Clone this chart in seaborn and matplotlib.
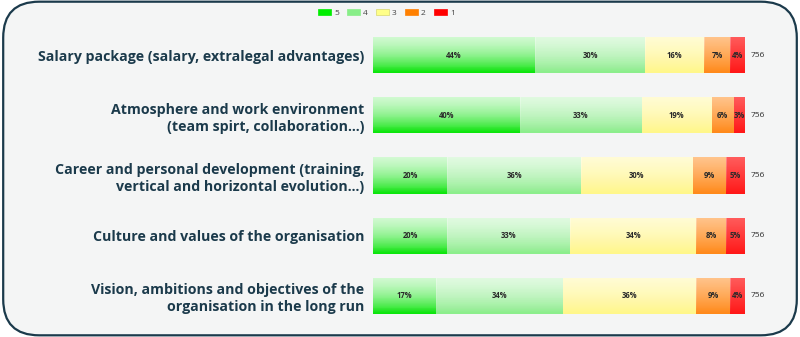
import numpy as np
import pandas as pd
import matplotlib
matplotlib.use("Agg")
import matplotlib.pyplot as plt
from matplotlib.patches import FancyBboxPatch, Patch
import seaborn as sns

categories = [
    "Salary package (salary, extralegal advantages)",
    "Atmosphere and work environment\n(team spirt, collaboration...)",
    "Career and personal development (training,\nvertical and horizontal evolution...)",
    "Culture and values of the organisation",
    "Vision, ambitions and objectives of the\norganisation in the long run",
]
levels = ["5", "4", "3", "2", "1"]
score5 = [44, 40, 20, 20, 17]
score4 = [30, 33, 36, 33, 34]
score3 = [16, 19, 30, 34, 36]
score2 = [7, 6, 9, 8, 9]
score1 = [4, 3, 5, 5, 4]
counts = [756, 756, 756, 756, 756]

colors = ["#0be60b", "#8cee8c", "#fff78a", "#ff8a1a", "#ff1818"]
legend_colors = ["#00ee00", "#88ee88", "#ffff88", "#ff8000", "#ff0000"]
text_col = "#1b3a4b"

sns.set_theme(style="white")
plt.rcParams['font.family'] = ['Open Sans', 'DejaVu Sans']

vals = np.array([score5, score4, score3, score2, score1], dtype=float)  # levels x cats
totals = vals.sum(axis=0)
shares = vals / totals
cum = np.cumsum(shares, axis=0)

fig = plt.figure(figsize=(8, 3.37), dpi=100)
fig.patch.set_facecolor("white")
frame = FancyBboxPatch((0.004, 0.005), 0.992, 0.99, boxstyle="round,pad=0,rounding_size=0.045",
                       transform=fig.transFigure, facecolor="#f4f5f5", edgecolor=text_col,
                       linewidth=1.6, mutation_aspect=800/337, zorder=-5)
fig.patches.append(frame)

ax = fig.add_axes([0.466, 0.0326, 0.465, 0.8934])
ax.set_facecolor("none")
ax.set_zorder(2)

# draw cumulative layers from right-most (1) to left-most (5)
for i in range(len(levels) - 1, -1, -1):
    df = pd.DataFrame({"cat": categories, "value": cum[i]})
    sns.barplot(data=df, x="value", y="cat", orient="h", color=colors[i],
                saturation=1, width=0.6, ax=ax, edgecolor="none", linewidth=0)

# gradient highlight on each bar
grad = np.linspace(0.3, 0.0, 64).reshape(-1, 1)
rgba = np.zeros((64, 1, 4))
rgba[..., :3] = 1.0
rgba[..., 3] = grad
for p in list(ax.patches):
    x0, y0 = p.get_x(), p.get_y()
    w, h = p.get_width(), p.get_height()
    im = ax.imshow(rgba, extent=(x0, x0 + w, y0 + h, y0), aspect="auto",
                   interpolation="bilinear", zorder=p.get_zorder() + 0.01)
    im.set_clip_path(p)

ax.set_xlim(0, 1)
ax.set_ylim(len(categories) - 0.5, -0.5)

# segment labels
for j in range(len(categories)):
    left = 0.0
    for i in range(len(levels)):
        w = shares[i, j]
        ax.text(left + w / 2, j, f"{int(vals[i, j])}%", ha="center", va="center",
                fontsize=5.5, fontweight="bold", color="#2a2a2a", zorder=10)
        left += w
    ax.text(1.015, j, str(counts[j]), ha="left", va="center", fontsize=6,
            color="#2a2a2a", zorder=10)

ax.set_xlabel("")
ax.set_ylabel("")
ax.set_xticks([])
ax.tick_params(axis="y", length=0, pad=6)
ax.set_yticks(range(len(categories)))
ax.set_yticklabels(categories, fontsize=10.2, fontweight="bold", color=text_col,
                   linespacing=1.28, ha="right")
for s in ax.spines.values():
    s.set_visible(False)

handles = [Patch(facecolor=c, edgecolor="#d8d870" if l == "3" else c, linewidth=0.5)
           for c, l in zip(legend_colors, levels)]
fig.legend(handles, levels, loc="center", bbox_to_anchor=(0.483, 0.962), ncol=5,
           frameon=False, fontsize=6, handlelength=1.56, handleheight=0.84,
           handletextpad=0.35, columnspacing=1.0, labelcolor="#444444")

fig.savefig("out.png", dpi=100, facecolor=fig.get_facecolor())
